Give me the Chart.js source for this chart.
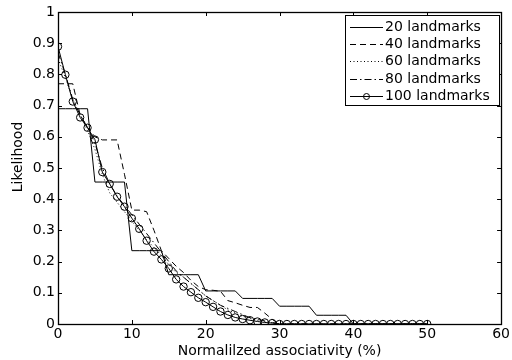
<!DOCTYPE html>
<html>
<head>
<meta charset="utf-8">
<script src="https://cdn.jsdelivr.net/npm/chart.js@4/dist/chart.umd.min.js"></script>
<style>
  body { margin: 0; background: #fff; }
  canvas { display: block; }
</style>
</head>
<body>
<canvas id="chart" width="512" height="360"></canvas>
<script>
"use strict";

// x = normalized associativity (%)
const assoc = [0, 1, 2, 3, 4, 5, 6, 7, 8, 9, 10, 11, 12, 13, 14, 15, 16, 17, 18, 19, 20,
    21, 22, 23, 24, 25, 26, 27, 28, 29, 30, 31, 32, 33, 34, 35, 36, 37, 38, 39, 40,
    41, 42, 43, 44, 45, 46, 47, 48, 49, 50];

const lm20 = [0.69, 0.69, 0.69, 0.69, 0.69, 0.455, 0.455, 0.455, 0.455, 0.455,
    0.235, 0.235, 0.235, 0.235, 0.235, 0.158, 0.158, 0.158, 0.158, 0.158,
    0.106, 0.106, 0.106, 0.106, 0.106, 0.082, 0.082, 0.082, 0.082, 0.082,
    0.057, 0.057, 0.057, 0.057, 0.057, 0.028, 0.028, 0.028, 0.028, 0.028,
    0, 0, 0, 0, 0, 0, 0, 0, 0, 0, 0];

const lm40 = [0.77, 0.77, 0.77, 0.67, 0.63, 0.6, 0.59, 0.59, 0.59, 0.48,
    0.365, 0.365, 0.36, 0.3, 0.235, 0.21, 0.185, 0.165, 0.14, 0.12,
    0.11, 0.108, 0.105, 0.075, 0.068, 0.06, 0.053, 0.053, 0.035, 0.015,
    0, 0, 0, 0, 0, 0, 0, 0, 0, 0, 0, 0, 0, 0, 0, 0, 0, 0, 0, 0, 0];

const lm60 = [0.85, 0.79, 0.72, 0.67, 0.62, 0.56, 0.48, 0.42, 0.39, 0.36,
    0.33, 0.3, 0.27, 0.245, 0.22, 0.19, 0.165, 0.15, 0.13, 0.11,
    0.09, 0.075, 0.06, 0.045, 0.035, 0.025, 0.018, 0.012, 0.008, 0.004,
    0, 0, 0, 0, 0, 0, 0, 0, 0, 0, 0, 0, 0, 0, 0, 0, 0, 0, 0, 0, 0];

const lm80 = [0.87, 0.8, 0.72, 0.67, 0.63, 0.58, 0.5, 0.45, 0.41, 0.38,
    0.35, 0.32, 0.29, 0.26, 0.23, 0.2, 0.17, 0.15, 0.13, 0.11,
    0.09, 0.075, 0.06, 0.05, 0.04, 0.03, 0.02, 0.015, 0.01, 0.005,
    0, 0, 0, 0, 0, 0, 0, 0, 0, 0, 0, 0, 0, 0, 0, 0, 0, 0, 0, 0, 0];

const lm100 = [0.889, 0.799, 0.713, 0.662, 0.629, 0.591, 0.487, 0.449, 0.408, 0.376,
    0.339, 0.305, 0.267, 0.232, 0.207, 0.178, 0.143, 0.12, 0.102, 0.084,
    0.07, 0.055, 0.04, 0.029, 0.021, 0.016, 0.012, 0.008, 0.005, 0.003,
    0, 0, 0, 0, 0, 0, 0, 0, 0, 0, 0, 0, 0, 0, 0, 0, 0, 0, 0, 0, 0];

const seriesLabels = ["20 landmarks", "40 landmarks", "60 landmarks", "80 landmarks", "100 landmarks"];
const xTickLabels = ["0", "10", "20", "30", "40", "50", "60"];
const yTickLabels = ["0", "0.1", "0.2", "0.3", "0.4", "0.5", "0.6", "0.7", "0.8", "0.9", "1"];

const FONT = "'DejaVu Sans', sans-serif";

function pts(ys) {
    return ys.map(function (y, i) { return { x: assoc[i], y: y }; });
}

const dashes = [[], [6, 4], [1, 2.5], [7, 3, 1.5, 3], []];

// box, inward ticks, y title and boxed legend drawn like matlab
const matlabPlugin = {
    id: "matlabBox",
    afterDraw: function (chart) {
        const ctx = chart.ctx;
        const a = chart.chartArea;
        const xs = chart.scales.x;
        const ys = chart.scales.y;
        ctx.save();
        ctx.strokeStyle = "#000";
        ctx.lineWidth = 1;
        ctx.setLineDash([]);
        ctx.beginPath();
        xs.ticks.forEach(function (t) {
            const px = Math.round(xs.getPixelForValue(t.value)) + 0.5;
            ctx.moveTo(px, a.bottom); ctx.lineTo(px, a.bottom - 4);
            ctx.moveTo(px, a.top); ctx.lineTo(px, a.top + 4);
        });
        ys.ticks.forEach(function (t) {
            const py = Math.round(ys.getPixelForValue(t.value)) + 0.5;
            ctx.moveTo(a.left, py); ctx.lineTo(a.left + 4, py);
            ctx.moveTo(a.right, py); ctx.lineTo(a.right - 4, py);
        });
        ctx.stroke();
        ctx.lineWidth = 1.3;
        ctx.strokeRect(Math.round(a.left) + 0.5, Math.round(a.top) + 0.5,
            Math.round(a.right - a.left), Math.round(a.bottom - a.top));

        // y title
        ctx.fillStyle = "#000";
        ctx.font = "14px " + FONT;
        ctx.textAlign = "center";
        ctx.textBaseline = "middle";
        ctx.save();
        ctx.translate(18, 157);
        ctx.rotate(-Math.PI / 2);
        ctx.fillText("Likelihood", 0, 0);
        ctx.restore();

        // legend
        const lx = 345, ly = 15, lw = 154, lh = 90;
        ctx.fillStyle = "#fff";
        ctx.fillRect(lx, ly, lw, lh);
        ctx.lineWidth = 1;
        ctx.strokeRect(lx + 0.5, ly + 0.5, lw, lh);
        chart.data.datasets.forEach(function (ds, i) {
            const yy = Math.round(ly + 12 + i * 17.2) + 0.5;
            ctx.setLineDash(dashes[i]);
            ctx.lineWidth = 1;
            ctx.beginPath();
            ctx.moveTo(350, yy);
            ctx.lineTo(383, yy);
            ctx.stroke();
            ctx.setLineDash([]);
            if (i === 4) {
                ctx.beginPath();
                ctx.arc(366.5, yy, 3, 0, Math.PI * 2);
                ctx.stroke();
            }
            ctx.fillStyle = "#000";
            ctx.textAlign = "left";
            ctx.textBaseline = "middle";
            ctx.fillText(ds.label, 385, yy);
        });
        ctx.restore();
    }
};

const datasets = [lm20, lm40, lm60, lm80, lm100].map(function (ys, i) {
    return {
        label: seriesLabels[i],
        data: pts(ys),
        borderColor: "#000",
        borderWidth: 1,
        borderDash: dashes[i],
        pointRadius: i === 4 ? 3.7 : 0,
        pointBorderColor: "#000",
        pointBackgroundColor: "rgba(0,0,0,0)",
        pointBorderWidth: 1,
        tension: 0,
        fill: false
    };
});

new Chart(document.getElementById("chart"), {
    type: "line",
    data: { datasets: datasets },
    options: {
        responsive: false,
        animation: false,
        layout: { padding: { left: 0, top: 12, right: 8, bottom: 0 } },
        plugins: {
            legend: { display: false },
            tooltip: { enabled: false }
        },
        scales: {
            x: {
                type: "linear",
                min: 0,
                max: 60,
                ticks: {
                    stepSize: 10,
                    padding: 2,
                    color: "#000",
                    font: { family: FONT, size: 14 },
                    maxRotation: 0,
                    callback: function (v, i) { return xTickLabels[i]; }
                },
                grid: { display: false, drawTicks: false },
                border: { display: false },
                title: {
                    display: true,
                    text: "Normalilzed associativity (%)",
                    color: "#000",
                    font: { family: FONT, size: 14 },
                    padding: { top: 0, bottom: 0 }
                },
                afterFit: function (scale) { scale.height = 36; }
            },
            y: {
                type: "linear",
                min: 0,
                max: 1,
                ticks: {
                    stepSize: 0.1,
                    padding: 3,
                    color: "#000",
                    font: { family: FONT, size: 14 },
                    callback: function (v, i) { return yTickLabels[i]; }
                },
                grid: { display: false, drawTicks: false },
                border: { display: false },
                afterFit: function (scale) { scale.width = 58; }
            }
        }
    },
    plugins: [matlabPlugin]
});
</script>
</body>
</html>
